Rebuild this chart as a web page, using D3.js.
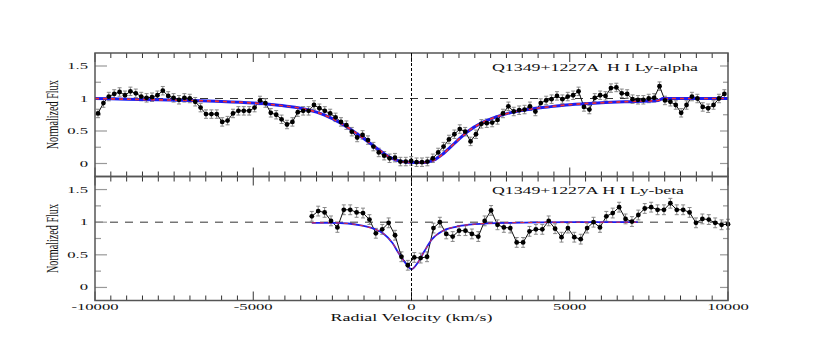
<!DOCTYPE html>
<html>
<head>
<meta charset="utf-8">
<script src="https://cdn.jsdelivr.net/npm/d3@7"></script>
<style>
  body { margin: 0; background: #fff; }
  text { font-family: "Liberation Serif", "DejaVu Serif", serif; fill: #111; }
</style>
</head>
<body>
<svg id="chart" width="817" height="354"></svg>
<script>
// Ly-alpha data (top panel)
const lyaVel = [-9905, -9734, -9564, -9393, -9223, -9052, -8881, -8711, -8540, -8370,
  -8199, -8028, -7858, -7687, -7517, -7346, -7175, -7005, -6834, -6664,
  -6493, -6322, -6152, -5981, -5811, -5640, -5469, -5299, -5128, -4958,
  -4787, -4616, -4446, -4275, -4105, -3934, -3763, -3593, -3422, -3252,
  -3081, -2910, -2740, -2569, -2399, -2228, -2057, -1887, -1716, -1546,
  -1375, -1204, -1034, -863, -693, -522, -351, -181, -10, 160,
  331, 502, 672, 843, 1013, 1184, 1355, 1525, 1696, 1866,
  2037, 2208, 2378, 2549, 2719, 2890, 3061, 3231, 3402, 3572,
  3743, 3914, 4084, 4255, 4425, 4596, 4767, 4937, 5108, 5278,
  5449, 5620, 5790, 5961, 6131, 6302, 6473, 6643, 6814, 6984,
  7155, 7326, 7496, 7667, 7837, 8008, 8179, 8349, 8520, 8690,
  8861, 9032, 9202, 9373, 9543, 9714, 9885];
const lyaFlux = [0.77, 0.93, 1.03, 1.07, 1.10, 1.05, 1.11, 1.08, 1.03, 1.01,
  1.02, 1.05, 1.12, 1.04, 1.01, 0.98, 1.01, 1.00, 0.95, 0.86,
  0.76, 0.76, 0.76, 0.64, 0.66, 0.77, 0.81, 0.81, 0.81, 0.86,
  0.97, 0.93, 0.78, 0.75, 0.68, 0.60, 0.64, 0.79, 0.81, 0.81,
  0.90, 0.85, 0.81, 0.77, 0.71, 0.64, 0.59, 0.49, 0.40, 0.44,
  0.36, 0.26, 0.17, 0.12, 0.08, 0.09, 0.03, 0.03, 0.04, 0.02,
  0.02, 0.03, 0.08, 0.17, 0.26, 0.37, 0.45, 0.53, 0.49, 0.34,
  0.45, 0.61, 0.62, 0.63, 0.67, 0.77, 0.88, 0.80, 0.82, 0.83,
  0.88, 0.80, 0.93, 0.97, 0.99, 1.04, 0.99, 1.03, 1.05, 1.11,
  0.87, 0.83, 1.01, 1.05, 1.04, 1.16, 1.17, 1.08, 1.07, 0.99,
  0.98, 0.98, 1.00, 1.01, 1.19, 0.97, 0.95, 0.90, 0.78, 0.90,
  1.03, 1.00, 0.87, 0.85, 0.90, 1.00, 1.07];
const lyaErr = 0.065;

// Ly-alpha fit
const lyaModelVel = [-10000, -9000, -8000, -7000, -6000, -5000, -4500, -4000, -3500, -3000,
  -2500, -2000, -1500, -1000, -700, -400, 0, 400, 700, 1000,
  1400, 1800, 2200, 2700, 3200, 3800, 4400, 5000, 6000, 7000,
  7800, 7950, 10000];
const lyaModelFlux = [1.0, 0.99, 0.98, 0.97, 0.955, 0.93, 0.91, 0.885, 0.85, 0.79,
  0.69, 0.55, 0.38, 0.2, 0.1, 0.04, 0.015, 0.015, 0.05, 0.15,
  0.33, 0.5, 0.62, 0.72, 0.79, 0.84, 0.875, 0.905, 0.935, 0.955,
  0.97, 1.0, 1.0];

// Ly-beta data (bottom panel)
const lybVel = [-3150, -2948, -2745, -2543, -2341, -2139, -1936, -1734, -1532, -1329,
  -1127, -925, -722, -520, -318, -116, 87, 289, 491, 694,
  896, 1098, 1301, 1503, 1705, 1908, 2110, 2312, 2514, 2717,
  2919, 3121, 3324, 3526, 3728, 3931, 4133, 4335, 4537, 4740,
  4942, 5144, 5347, 5549, 5751, 5954, 6156, 6358, 6560, 6763,
  6965, 7167, 7370, 7572, 7774, 7977, 8179, 8381, 8583, 8786,
  8988, 9190, 9393, 9595, 9797, 10000];
const lybFlux = [1.09, 1.17, 1.15, 1.02, 0.92, 1.19, 1.19, 1.15, 1.14, 1.04,
  0.83, 0.89, 0.99, 0.80, 0.47, 0.34, 0.46, 0.45, 0.47, 0.91,
  1.00, 0.82, 0.78, 0.87, 0.87, 0.82, 0.78, 1.02, 1.18, 0.96,
  0.92, 0.91, 0.69, 0.69, 0.86, 0.89, 0.89, 1.02, 0.90, 0.77,
  0.91, 0.77, 0.74, 0.91, 1.00, 0.92, 1.09, 1.14, 1.23, 1.05,
  1.01, 1.11, 1.21, 1.23, 1.19, 1.19, 1.29, 1.19, 1.19, 1.15,
  0.99, 1.05, 1.04, 0.99, 0.96, 0.97];
const lybErr = 0.075;

// Ly-beta fit
const lybModelVel = [-3150, -2500, -2000, -1600, -1200, -900, -600, -400, -200, 0,
  200, 400, 650, 1000, 1400, 2000, 3000, 5000, 7150];
const lybModelFlux = [0.99, 0.99, 0.98, 0.95, 0.9, 0.83, 0.68, 0.52, 0.38, 0.28,
  0.38, 0.55, 0.74, 0.87, 0.93, 0.97, 0.99, 1.0, 1.0];

const xTicks = [-10000, -5000, 0, 5000, 10000];
const xTickLabels = ["-10000", "-5000", "0", "5000", "10000"];
const yTicks = [0, 0.5, 1, 1.5];
const yTickLabels = ["0", "0.5", "1", "1.5"];
const panelTitles = ["Q1349+1227A  H I Ly-alpha", "Q1349+1227A H I Ly-beta"];

const svg = d3.select("#chart");
const left = 95, right = 728;

const x = d3.scaleLinear().domain([-10000, 10000]).range([left, right]);

function drawPanel(top, bottom, vel, flux, err, mVel, mFlux, title, titleLen, modelWidth) {
  const y = d3.scaleLinear().domain([-0.2, 1.7]).range([bottom, top]);
  const g = svg.append("g");

  // y = 1 reference
  g.append("line")
    .attr("x1", left).attr("x2", right)
    .attr("y1", y(1)).attr("y2", y(1))
    .attr("stroke", "#333").attr("stroke-dasharray", "8,7");

  // y ticks, both sides
  d3.range(0, 1.6, 0.25).forEach(v => {
    const major = Math.abs(v * 2 - Math.round(v * 2)) < 1e-6;
    g.append("line")
      .attr("x1", left).attr("x2", left + (major ? 12 : 6))
      .attr("y1", y(v)).attr("y2", y(v))
      .attr("stroke", "#999").attr("stroke-width", 1.2);
    g.append("line")
      .attr("x1", right).attr("x2", right - (major ? 8 : 5))
      .attr("y1", y(v)).attr("y2", y(v))
      .attr("stroke", "#999").attr("stroke-width", 1.2);
  });

  yTicks.forEach((v, i) => {
    g.append("text")
      .attr("transform", `translate(88, ${y(v) + 3}) scale(1.85, 1)`)
      .attr("text-anchor", "end")
      .attr("font-size", 9)
      .text(yTickLabels[i]);
  });

  // x ticks top and bottom, inward
  d3.range(-10000, 10001, 500).forEach(v => {
    const len = v % 5000 === 0 ? 9 : 5;
    g.append("line")
      .attr("x1", x(v)).attr("x2", x(v))
      .attr("y1", top).attr("y2", top + len)
      .attr("stroke", "#333");
    g.append("line")
      .attr("x1", x(v)).attr("x2", x(v))
      .attr("y1", bottom).attr("y2", bottom - len)
      .attr("stroke", "#333");
  });

  // error bars
  const bars = g.append("g").attr("stroke", "#888").attr("stroke-width", 1);
  vel.forEach((v, i) => {
    const cx = x(v);
    bars.append("line").attr("x1", cx).attr("x2", cx)
      .attr("y1", y(flux[i] - err)).attr("y2", y(flux[i] + err));
    bars.append("line").attr("x1", cx - 2).attr("x2", cx + 2)
      .attr("y1", y(flux[i] - err)).attr("y2", y(flux[i] - err));
    bars.append("line").attr("x1", cx - 2).attr("x2", cx + 2)
      .attr("y1", y(flux[i] + err)).attr("y2", y(flux[i] + err));
  });

  const pts = vel.map((v, i) => [v, flux[i]]);
  const line = d3.line().x(d => x(d[0])).y(d => y(d[1]));

  g.append("path")
    .datum(pts)
    .attr("d", line)
    .attr("fill", "none")
    .attr("stroke", "#111")
    .attr("stroke-width", 1);

  // fit curves
  const model = mVel.map((v, i) => [v, mFlux[i]]);
  const smooth = d3.line().x(d => x(d[0])).y(d => y(d[1])).curve(d3.curveMonotoneX);
  g.append("path")
    .datum(model)
    .attr("d", smooth)
    .attr("fill", "none")
    .attr("stroke", "#1c1cf0")
    .attr("stroke-width", modelWidth);
  g.append("path")
    .datum(model)
    .attr("d", smooth)
    .attr("fill", "none")
    .attr("stroke", "#f03030")
    .attr("stroke-width", modelWidth * 0.55)
    .attr("stroke-dasharray", "4,4");

  g.selectAll("circle")
    .data(pts)
    .join("circle")
    .attr("cx", d => x(d[0]))
    .attr("cy", d => y(d[1]))
    .attr("r", 2.4)
    .attr("fill", "#000");

  // frame
  g.append("rect")
    .attr("x", left).attr("y", top)
    .attr("width", right - left).attr("height", bottom - top)
    .attr("fill", "none")
    .attr("stroke", "#555")
    .attr("stroke-width", 1.5);

  g.append("text")
    .attr("x", 492)
    .attr("y", top + 17.5)
    .attr("font-size", 11)
    .attr("textLength", titleLen)
    .attr("lengthAdjust", "spacingAndGlyphs")
    .style("white-space", "pre")
    .text(title);

  g.append("text")
    .attr("transform", `translate(58, ${(top + bottom) / 2}) rotate(-90)`)
    .attr("text-anchor", "middle")
    .attr("font-size", 16)
    .attr("textLength", 69)
    .attr("lengthAdjust", "spacingAndGlyphs")
    .text("Normalized Flux");
}

drawPanel(53, 176.5, lyaVel, lyaFlux, lyaErr, lyaModelVel, lyaModelFlux, panelTitles[0], 206, 3);
drawPanel(176.5, 300.5, lybVel, lybFlux, lybErr, lybModelVel, lybModelFlux, panelTitles[1], 192, 1.8);

// zero velocity marker
svg.append("line")
  .attr("x1", x(0)).attr("x2", x(0))
  .attr("y1", 53).attr("y2", 300.5)
  .attr("stroke", "#000")
  .attr("stroke-dasharray", "3,2");

xTicks.forEach((v, i) => {
  svg.append("text")
    .attr("transform", `translate(${x(v)}, 310) scale(1.85, 1)`)
    .attr("text-anchor", "middle")
    .attr("font-size", 9)
    .text(xTickLabels[i]);
});

svg.append("text")
  .attr("x", x(0))
  .attr("y", 321)
  .attr("text-anchor", "middle")
  .attr("font-size", 10)
  .attr("textLength", 162)
  .attr("lengthAdjust", "spacingAndGlyphs")
  .text("Radial Velocity (km/s)");
</script>
</body>
</html>
